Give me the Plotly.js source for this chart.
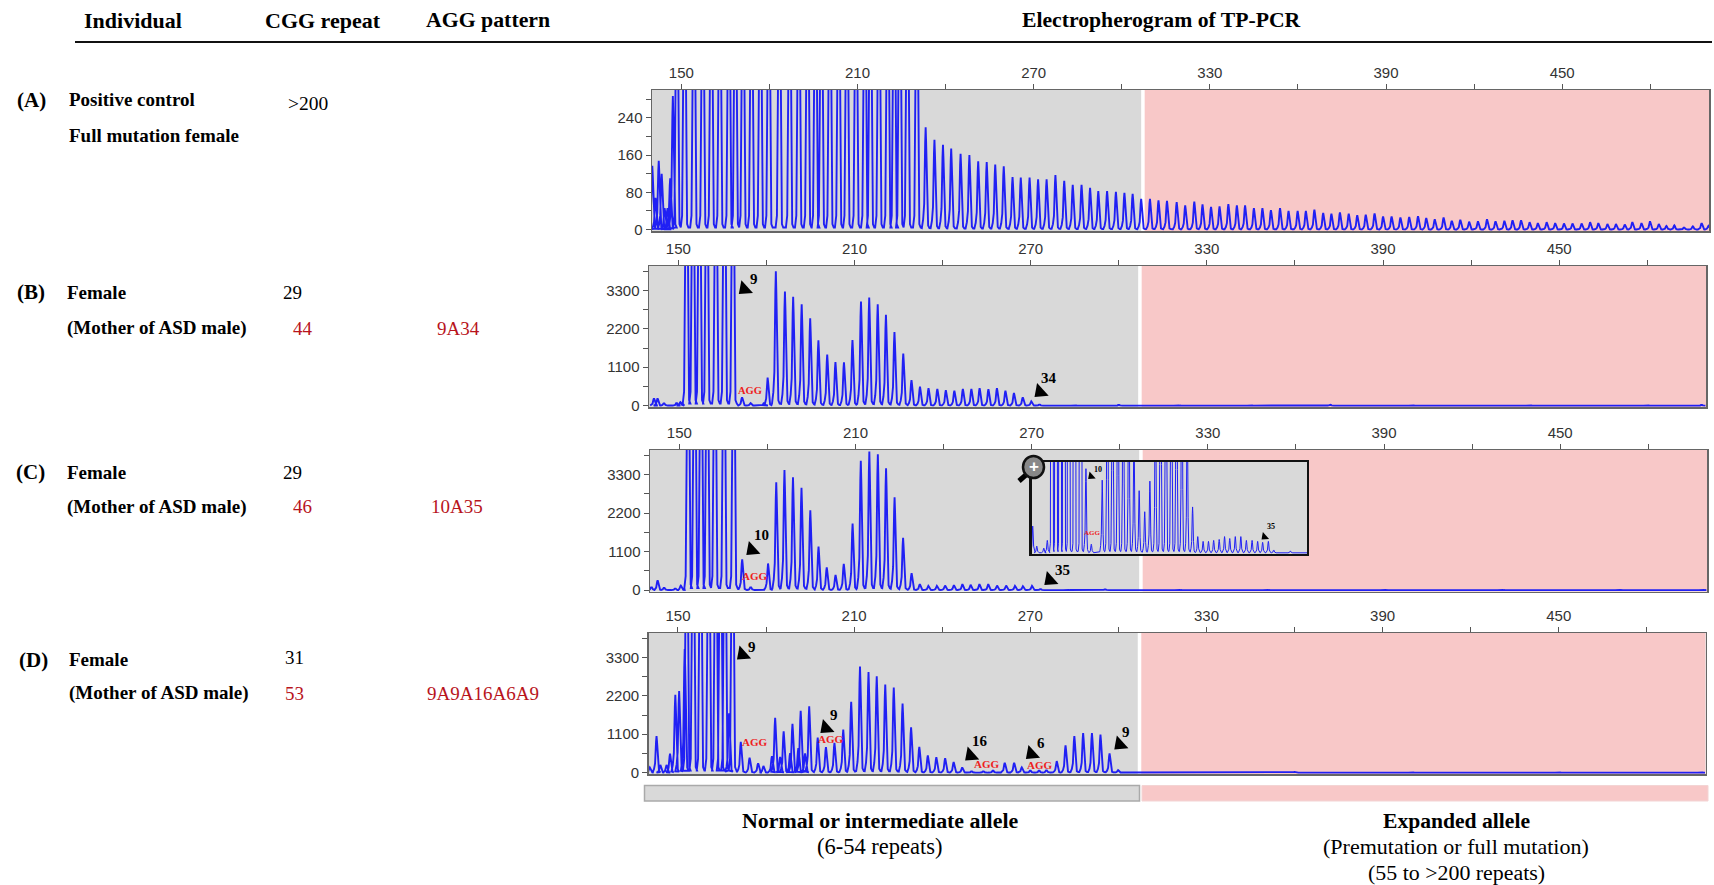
<!DOCTYPE html>
<html><head><meta charset="utf-8">
<script src="https://cdn.plot.ly/plotly-3.0.1.min.js"></script>
<style>html,body{margin:0;padding:0;background:#fff}#chart{width:1714px;height:885px}</style>
</head><body><div id="chart"></div>
<script>
// Peak sizes (bp) and heights. Off-scale peaks carry a nominal height above the axis top.
const aSizes = [140.1,141.2,142.3,143.3,144.3,145.3,146.2,147.1,148.5,151.1,154.3,157.3,160.2,163.1,166.2,168.4,171,173.9,176.9,179.8,183.4,186.9,190,193,195.7,197.7,200.6,203.6,206.4,209.5,212.5,214.4,217.3,220.3,222.5,224.4,227,230.2,233.2,236.2,239.1,241.9,245.1,248.1,251.1,254,256.9,259.8,262.8,265.6,268.6,271.5,274.4,277.4,280.4,283.3,286.3,289.2,292,295,298,300.9,303.7,306.6,309.6,312.5,315.4,318.7,321.6,324.7,327.5,330.4,333.3,336.3,339.2,342,345,347.9,350.8,353.9,356.8,359.9,362.7,365.6,368.6,371.4,374.3,377.3,380.2,383.1,386.1,389,391.9,394.9,397.9,400.9,403.7,406.6,409.6,412.4,415.3,418.3,421.3,424.4,427.3,430.3,433.1,436,438.9,441.7,444.7,447.6,450.6,453.5,456.6,459.5,462.3,465.4,468.3,471.3,473.9,477,479.9,482.9,485.5,488.2,491.5,494.5,497.5,499.8];
const aHeights = [137,68,148,120,46,46,110,287,1200,1200,1200,1200,1200,1200,1200,1200,1200,1200,1200,1200,1200,1200,1200,1200,1200,1200,1200,1200,1200,1200,1200,1200,1200,1200,1200,1200,1200,1200,220,193,182,174,163,160,147,145,140,136,113,112,112,108,108,117,105,96,96,90,83,83,81,79,77,66,66,63,62,59,52,60,54,49,50,55,52,52,46,46,42,46,40,40,40,43,36,34,37,34,31,32,35,28,28,26,27,29,25,22,26,19,21,17,18,22,18,19,20,20,16,14,16,14,13,13,13,16,14,12,12,11,16,14,18,12,8,9,5,7,14,8];

const bSizes = [141.7,142.9,145.1,149.4,150.7,152.8,155,157.2,159.7,162.8,165.7,168.6,171.7,174.6,179.2,180.4,183.2,186.3,189.1,192,194.9,197.7,200.7,203.5,206.4,209.3,212.2,215,217.9,220.7,223.6,226.6,229.4,232.3,235.2,238.2,241.1,244,246.9,249.8,252.6,255.6,258.5,261.4,264.3,267.3,270.2,273,285,300,320,345,372,400,440,480,498.5];
const bHeights = [210,210,70,80,100,16000,16000,16000,16000,16000,16000,16000,240,70,80,800,3850,3270,3120,2900,2500,1870,1465,1250,1240,1880,2980,3100,2900,2600,2110,1490,730,540,500,480,440,430,480,480,500,470,500,430,360,240,120,30,20,20,25,20,25,20,20,20,20];

const cSizes = [140.5,142.6,144.8,148.6,150.5,153,155.2,157.4,159.5,162.1,165.2,168.5,171.4,174.3,180.2,183,185.8,188.7,191.6,194.6,197.4,200.2,203.2,206,209,211.8,214.7,217.6,220.4,223.3,226.2,229.1,231.9,234.8,237.7,240.5,243.5,246.4,249.2,252.2,255.2,258.2,261.3,264.3,267,270.1,273,282,295,320,350,390,430,470,498.5];
const cHeights = [90,280,70,50,130,16000,16000,16000,16000,16000,16000,16000,880,90,760,3080,3430,3220,2920,2280,1240,650,430,750,1900,3690,3960,3880,3480,2650,1490,480,170,120,120,130,140,170,150,170,170,130,130,120,110,120,30,20,20,20,20,20,20,20,20];

const dSizes = [140.4,142.7,144,146.1,147.3,149.1,150.4,152.3,153,155.2,157.7,160.5,162.9,164.5,166,167.4,168.6,171.4,174.4,177.3,179.1,182,183.1,184.8,186,188.2,189,191,191.8,193.3,194.7,197.6,200.4,203.3,206.3,209,212,214.9,217.7,220.6,223.5,226.5,229.4,232.2,235.1,238,241,243.9,246.8,250,254,257.3,261.3,264.5,267.1,270,273,275.5,279,282,285,288,291,293.9,297,299.9,310,330,360,400,450,498.5];
const dHeights = [150,1050,220,220,540,2230,2340,3540,16000,16000,16000,16000,16000,16000,16000,1700,16000,880,430,270,190,470,1570,450,1180,560,1400,700,1770,550,1900,1000,730,850,1230,2030,3040,2880,2760,2520,2440,1980,1300,740,490,440,410,300,150,40,40,60,280,280,150,60,60,70,330,780,1050,1130,1130,1090,550,70,20,20,20,20,20,20];

// Axis ticks
const sizeTickStart = 150, sizeTickStep = 60, sizeMinorStep = 30;
const aYTicks = [0,80,160,240], bYTicks = [0,1100,2200,3300];

// Arrow markers (size, height, direction) and their repeat-count labels
const bArrowX=[172.5,273.2], bArrowY=[3338,392], bLabelX=[175.8,276.4], bLabelY=[3625,794], bLabels=['9','34'];
const bAggX=[174.4], bAggY=[430];
const cArrowX=[174.7,276.2], cArrowY=[1148,287], cLabelX=[177.9,280.4], cLabelY=[1560,564], cLabels=['10','35'];
const cAggX=[175.7], cAggY=[392];
const dArrowX=[172,200.4,249.7,270.4,300.5], dArrowY=[3384,1278,489,536,808];
const dLabelX=[175.3,203.1,252.8,273.5,302.6], dLabelY=[3600,1645,902,855,1165], dLabels=['9','9','16','6','9'];
const dAggX=[176.3,202.2,255.4,273.4], dAggY=[874,950,244,225];
const iArrowX=[174.2,268], iArrowY=[800,167], iLabelX=[177.7,271.5], iLabelY=[873,272], iLabels=['10','35'];
const iAggX=[174.7], iAggY=[203];

// Text table
const headers = ['Individual','CGG repeat','AGG pattern','Electropherogram of TP-PCR'];
const rowTags = ['(A)','(B)','(C)','(D)'];

const W=1714,H=885, BLUE='#2020f4', GRAY='#d9d9d9', PINK='#f8c8c8', SERIF='"Liberation Serif","Times New Roman",serif', SANS='"Liberation Sans",Arial,sans-serif';
const fx=p=>p/W, fy=p=>1-p/H;

function expand(sizes,heights,top){
  const X=[],Y=[];
  sizes.forEach((s,i)=>{
    const h=heights[i], c=Math.min(h,top);
    [[-1.3,c*.015],[-.85,c*.1],[-.5,h*.25],[-.16,h*.85],[0,h],[.16,h*.85],[.5,h*.25],[.85,c*.04],[1.3,c*.015]].forEach(q=>{X.push(s+q[0]);Y.push(q[1]);});
  });
  return {X,Y};
}
const panels=[
 {id:'',  s:aSizes,h:aHeights,top:300, l:652,r:1709,t:90, b:231,yr:[-3,300], ticks:aYTicks,minor:40},
 {id:'2', s:bSizes,h:bHeights,top:4000,l:649,r:1706,t:266,b:407,yr:[-40,4000],ticks:bYTicks,minor:550},
 {id:'3', s:cSizes,h:cHeights,top:4000,l:650,r:1707,t:450,b:591.5,yr:[-40,4000],ticks:bYTicks,minor:550},
 {id:'4', s:dSizes,h:dHeights,top:4000,l:648.6,r:1705.6,t:633,b:774,yr:[-40,4000],ticks:bYTicks,minor:550},
];
const data=[], shapes=[], annotations=[];
const layout={width:W,height:H,margin:{l:0,r:0,t:0,b:0},paper_bgcolor:'#fff',plot_bgcolor:GRAY,showlegend:false,shapes,annotations,hovermode:false};

panels.forEach(p=>{
  const xn='x'+p.id, yn='y'+p.id, xk='xaxis'+p.id, yk='yaxis'+p.id;
  layout[xk]={domain:[fx(p.l),fx(p.r)],range:[140,500],side:'top',anchor:yn,tick0:sizeTickStart,dtick:sizeTickStep,ticks:'outside',ticklen:5,tickcolor:'#555',tickwidth:1,
    minor:{tick0:sizeTickStart,dtick:sizeMinorStep,ticks:'outside',ticklen:5,tickcolor:'#555',tickwidth:1,showgrid:false},
    showgrid:false,zeroline:false,showline:true,mirror:true,linecolor:'#666',linewidth:1.5,tickfont:{family:SANS,size:15,color:'#333'}};
  layout[yk]={domain:[fy(p.b),fy(p.t)],range:p.yr,anchor:xn,tickmode:'array',tickvals:p.ticks,ticks:'outside',ticklen:5,tickcolor:'#555',tickwidth:1,
    minor:{tick0:p.minor,dtick:p.minor*2,ticks:'outside',ticklen:5,tickcolor:'#555',tickwidth:1,showgrid:false},
    showgrid:false,zeroline:false,showline:true,mirror:true,linecolor:'#666',linewidth:1.5,tickfont:{family:SANS,size:15,color:'#333'}};
  shapes.push({type:'rect',xref:xn,yref:yn+' domain',x0:307,x1:500,y0:0,y1:1,fillcolor:PINK,line:{width:0},layer:'below'});
  shapes.push({type:'rect',xref:xn,yref:yn+' domain',x0:306.6,x1:307.8,y0:0,y1:1,fillcolor:'#fff',line:{width:0},layer:'below'});
  const e=expand(p.s,p.h,p.top);
  data.push({type:'scatter',mode:'lines',x:e.X,y:e.Y,xaxis:xn,yaxis:yn,line:{color:BLUE,width:1.9},hoverinfo:'skip'});
});

// Inset in panel C: the same trace with a magnified height axis
const inset={l:1031.6,r:1307,t:462,b:554};
layout.xaxis5={domain:[fx(inset.l),fx(inset.r)],range:[142,291],anchor:'y5',showticklabels:false,ticks:'',showgrid:false,zeroline:false,showline:true,mirror:true,linecolor:'#111',linewidth:2.2};
layout.yaxis5={domain:[fy(inset.b),fy(inset.t)],range:[-12,950],anchor:'x5',showticklabels:false,ticks:'',showgrid:false,zeroline:false,showline:true,mirror:true,linecolor:'#111',linewidth:2.2};
const ie=expand(cSizes,cHeights,1000);
data.push({type:'scatter',mode:'lines',x:ie.X,y:ie.Y,xaxis:'x5',yaxis:'y5',line:{color:BLUE,width:1},hoverinfo:'skip'});

// Arrows
function arrows(X,Y,xa,ya,size){
  data.push({type:'scatter',mode:'markers',x:X,y:Y,xaxis:xa,yaxis:ya,hoverinfo:'skip',marker:{symbol:'triangle-up',size,color:'#000',angle:X.map(()=>228),line:{width:0}}});
}
arrows(bArrowX,bArrowY,'x2','y2',15); arrows(cArrowX,cArrowY,'x3','y3',15); arrows(dArrowX,dArrowY,'x4','y4',15); arrows(iArrowX,iArrowY,'x5','y5',8);
function labels(X,Y,T,xa,ya,size){X.forEach((x,i)=>annotations.push({x,y:Y[i],xref:xa,yref:ya,text:'<b>'+T[i]+'</b>',showarrow:false,font:{family:SERIF,size,color:'#000'}}));}
function aggs(X,Y,xa,ya,size){X.forEach((x,i)=>annotations.push({x,y:Y[i],xref:xa,yref:ya,text:'<b>AGG</b>',showarrow:false,font:{family:SERIF,size,color:'#ee2020'}}));}
labels(bLabelX,bLabelY,bLabels,'x2','y2',15); aggs(bAggX,bAggY,'x2','y2',10.5);
labels(cLabelX,cLabelY,cLabels,'x3','y3',15); aggs(cAggX,cAggY,'x3','y3',11);
labels(dLabelX,dLabelY,dLabels,'x4','y4',15); aggs(dAggX,dAggY,'x4','y4',11);
labels(iLabelX,iLabelY,iLabels,'x5','y5',8); aggs(iAggX,iAggY,'x5','y5',7);

// Page text
function txt(t,x,y,size,opt){opt=opt||{};annotations.push({xref:'paper',yref:'paper',x:fx(x),y:fy(y),text:opt.bold?'<b>'+t+'</b>':t,showarrow:false,xanchor:opt.anchor||'center',yanchor:'middle',font:{family:SERIF,size,color:opt.color||'#000'}});}
const RED='#b8141c', B={bold:true}, BL={bold:true,anchor:'left'};
txt(headers[0],132.5,20,22,B); txt(headers[1],322.5,20,22,B); txt(headers[2],488,20,21.8,B); txt(headers[3],1161,20,21.7,B);
shapes.push({type:'line',xref:'paper',yref:'paper',x0:fx(75),x1:fx(1712),y0:fy(42),y1:fy(42),line:{color:'#111',width:2}});
txt(rowTags[0],32,100.5,21,B); txt('Positive control',67,100,19,BL); txt('Full mutation female',67,135.5,19,BL); txt('&gt;200',307.5,103,19.5);
txt(rowTags[1],31,292,21,B); txt('Female',65,292,19,BL); txt('(Mother of ASD male)',65,328,19,BL); txt('29',292,292,19); txt('44',302.5,328,19,{color:RED}); txt('9A34',458,328,19,{color:RED});
txt(rowTags[2],31,472,21,B); txt('Female',65,472,19,BL); txt('(Mother of ASD male)',65,507,19,BL); txt('29',292,472,19); txt('46',302.5,507,19,{color:RED}); txt('10A35',457,507,19,{color:RED});
txt(rowTags[3],33,660,21,B); txt('Female',67,659,19,BL); txt('(Mother of ASD male)',67,693,19,BL); txt('31',294,657,19); txt('53',294,693,19,{color:RED}); txt('9A9A16A6A9',483,693,19,{color:RED});
txt('Normal or intermediate allele',880,820.5,21.9,B); txt('(6-54 repeats)',880,846.5,22.5);
txt('Expanded allele',1456,820.5,21.6,B); txt('(Premutation or full mutation)',1456,846.5,22); txt('(55 to &gt;200 repeats)',1456,872.5,21.9);

// Allele range key
shapes.push({type:'rect',xref:'paper',yref:'paper',x0:fx(644.5),x1:fx(1139.5),y0:fy(801),y1:fy(785.5),fillcolor:GRAY,line:{color:'#aaa',width:1.5}});
shapes.push({type:'rect',xref:'paper',yref:'paper',x0:fx(1142),x1:fx(1708),y0:fy(801),y1:fy(785.5),fillcolor:PINK,line:{color:'#f3d4d4',width:1}});

// Magnifier on the inset
shapes.push({type:'line',xref:'paper',yref:'paper',x0:fx(1027),y0:fy(474),x1:fx(1019),y1:fy(481),line:{color:'#000',width:5}});
shapes.push({type:'circle',xref:'paper',yref:'paper',x0:fx(1023),x1:fx(1044),y0:fy(478),y1:fy(456),fillcolor:'#888',line:{color:'#111',width:2.5}});
annotations.push({xref:'paper',yref:'paper',x:fx(1033.5),y:fy(466.5),text:'<b>+</b>',showarrow:false,font:{family:SANS,size:17,color:'#fff'}});

Plotly.newPlot('chart',data,layout,{displayModeBar:false,staticPlot:true});
</script></body></html>
